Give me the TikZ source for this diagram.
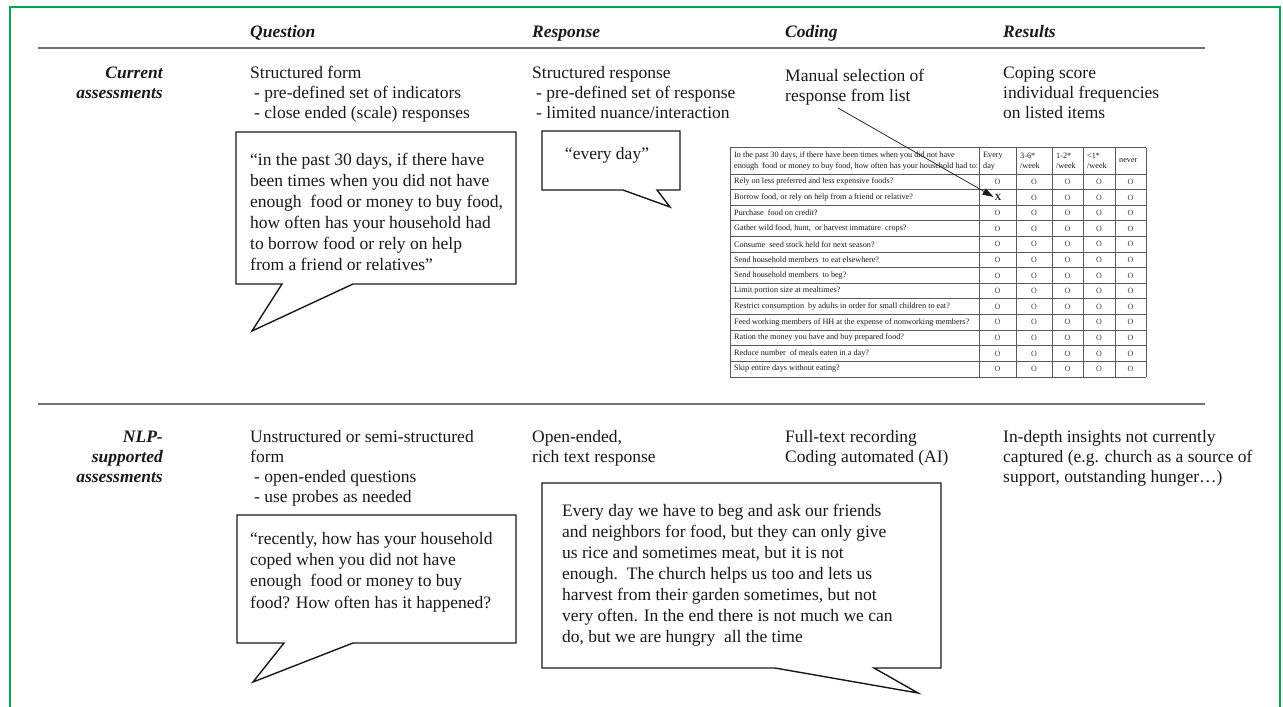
\documentclass[tikz,border=0pt]{standalone}
\usepackage{fontspec}
\setmainfont{Liberation Serif}
\usetikzlibrary{arrows.meta}
\definecolor{frameg}{RGB}{0,166,81}
\definecolor{ink}{RGB}{25,25,25}
\begin{document}
\begin{tikzpicture}[x=1pt,y=-1pt,
  txt/.style={anchor=base west, inner sep=0pt, align=left, text=ink, font=\fontsize{17.5}{20}\selectfont},
  hdr/.style={anchor=base west, inner sep=0pt, text=ink, font=\fontsize{17.5}{20}\selectfont\bfseries\itshape},
  rowlab/.style={anchor=base east, inner sep=0pt, align=right, text=ink, font=\fontsize{17.5}{20}\selectfont\bfseries\itshape},
  bubble/.style={draw=ink, line width=1.4pt, line join=miter, fill=white},
  btxt/.style={anchor=base west, inner sep=0pt, align=left, text=ink},
  rule/.style={draw=black!55, line width=1.3pt},
  tbl/.style={draw=black!65, line width=0.8pt},
  ttxt/.style={inner sep=0pt, text=ink, font=\fontsize{8.2}{10.5}\selectfont},
  omark/.style={inner sep=0pt, text=black!75, font=\fontsize{8}{9}\selectfont},
]
\useasboundingbox (0,0) rectangle (1283,707);
\draw[frameg, line width=2pt] (10,708) -- (10,7) -- (1280,7) -- (1280,708);

% rules
\draw[rule] (38,48) -- (1205,48);
\draw[rule] (38,404) -- (1205,404);

% column headers
\node[hdr] (hQ) at (250,37) {Question};
\node[hdr] (hR) at (532,37) {Response};
\node[hdr] (hC) at (785,37) {Coding};
\node[hdr] (hS) at (1003,37) {Results};

% row labels (anchor = baseline of last line)
\node[rowlab] (lab1) at (163,98) {Current\\assessments};
\node[rowlab] (lab2) at (163,482) {NLP-\\supported\\assessments};

% row 1 texts
\node[txt] (q1) at (250,118) {Structured form\\\hspace*{4pt}- pre-defined set of indicators\\\hspace*{4pt}- close ended (scale) responses};
\node[txt] (r1) at (532,118) {Structured response\\\hspace*{4pt}- pre-defined set of response\\\hspace*{4pt}- limited nuance/interaction};
\node[txt] (c1) at (785,101) {Manual selection of\\response from list};
\node[txt] (s1) at (1003,118) {Coping score\\individual frequencies\\on listed items};

% row 2 texts
\node[txt] (q2) at (250,502) {Unstructured or semi-structured\\form\\\hspace*{4pt}- open-ended questions\\\hspace*{4pt}- use probes as needed};
\node[txt] (r2) at (532,462) {Open-ended,\\rich text response};
\node[txt] (c2) at (785,462) {Full-text recording\\Coding automated (AI)};
\node[txt] (s2) at (1003,482) {In-depth insights not currently\\captured (e.g. church as a source of\\support, outstanding hunger\ldots)};

% bubble 1
\draw[bubble] (236,132) -- (516,132) -- (516,284) -- (353,284) -- (252,331) -- (282,284) -- (236,284) -- cycle;
\node[btxt, font=\fontsize{17.5}{21}\selectfont] (b1) at (250,270)
 {“in the past 30 days, if there have\\been times when you did not have\\enough\ \ food or money to buy food,\\how often has your household had\\to borrow food or rely on help\\from a friend or relatives”};

% bubble 2
\draw[bubble] (542,131) -- (680,131) -- (680,190) -- (657,190) -- (670,207) -- (623,190) -- (542,190) -- cycle;
\node[inner sep=0pt, text=ink, font=\fontsize{17.5}{20}\selectfont] (b2) at (607,155) {“every day”};

% bubble 3
\draw[bubble] (237,515) -- (516,515) -- (516,643) -- (353,643) -- (253,682) -- (284,643) -- (237,643) -- cycle;
\node[btxt, font=\fontsize{17.5}{21.3}\selectfont] (b3) at (250,608)
 {“recently, how has your household\\coped when you did not have\\enough\ \ food or money to buy\\food? How often has it happened?};

% bubble 4
\draw[bubble] (542,483) -- (941,483) -- (941,668) -- (874,668) -- (918,693) -- (775,668) -- (542,668) -- cycle;
\node[btxt, font=\fontsize{17.5}{21}\selectfont] (b4) at (562,642)
 {Every day we have to beg and ask our friends\\and neighbors for food, but they can only give\\us rice and sometimes meat, but it is not\\enough.\ \ The church helps us too and lets us\\harvest from their garden sometimes, but not\\very often. In the end there is not much we can\\do, but we are hungry\ \ all the time};

% table
\fill[white] (730,147.5) rectangle (1146,377);
\foreach \yy in {147.5,174,189.6,205.2,220.8,236.4,252,267.6,283.2,298.8,314.4,330,345.6,361.2,377}
  \draw[tbl] (730,\yy) -- (1146,\yy);
\foreach \xx in {730,979,1016,1052,1083,1115,1146}
  \draw[tbl] (\xx,147.5) -- (\xx,377);

\node[ttxt, anchor=west, align=left] (th) at (734,161) {In the past 30 days, if there have been times when you did not have\\enough\ \ food or money to buy food, how often has your household had to:};
\node[ttxt, anchor=west, align=left] (th1) at (983,161) {Every\\day};
\node[ttxt, anchor=west, align=left] (th2) at (1020,161) {3-6*\\/week};
\node[ttxt, anchor=west, align=left] (th3) at (1056,161) {1-2*\\/week};
\node[ttxt, anchor=west, align=left] (th4) at (1087,161) {<1*\\/week};
\node[ttxt, anchor=west, align=left] (th5) at (1119,161) {never};

\foreach \t [count=\i] in {
  {Rely on less preferred and less expensive foods?},
  {Borrow food, or rely on help from a friend or relative?},
  {Purchase\ \ food on credit?},
  {Gather wild food, hunt,\ \ or harvest immature\ \ crops?},
  {Consume\ \ seed stock held for next season?},
  {Send household members\ \ to eat elsewhere?},
  {Send household members\ \ to beg?},
  {Limit portion size at mealtimes?},
  {Restrict consumption\ \ by adults in order for small children to eat?},
  {Feed working members of HH at the expense of nonworking members?},
  {Ration the money you have and buy prepared food?},
  {Reduce number\ \ of meals eaten in a day?},
  {Skip entire days without eating?}}
{
  \pgfmathsetmacro\yc{174+15.6*(\i-0.5)}
  \node[ttxt, anchor=west] (row\i) at (734,\yc) {\t};
  \foreach \cx [count=\j] in {997.5,1034,1067.5,1099,1130.5} {
    \ifnum\i=2 \ifnum\j=1 \else
      \node[omark] (o\i-\j) at (\cx,\yc) {O};
    \fi \else
      \node[omark] (o\i-\j) at (\cx,\yc) {O};
    \fi
  }
}
\node[inner sep=0pt, text=ink, font=\fontsize{9.5}{10}\selectfont\bfseries] (xm) at (998,197.4) {X};

% arrow from coding text to selected cell
\coordinate (arrS) at (838,108);
\draw[ink, line width=0.7pt, -{Triangle[length=11pt,width=7pt]}, shorten >=1pt] (arrS) -- (xm.west);
\end{tikzpicture}
\end{document}
